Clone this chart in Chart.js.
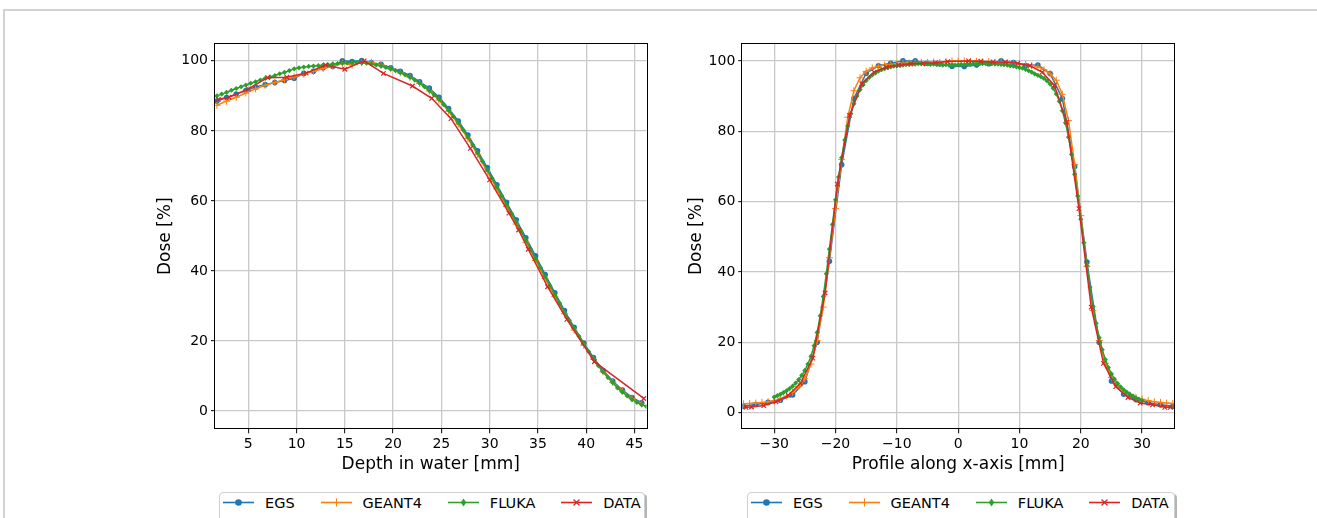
<!DOCTYPE html>
<html><head><meta charset="utf-8">
<script src="https://cdn.jsdelivr.net/npm/chart.js@4.4.0/dist/chart.umd.min.js"></script>
<style>
html,body{margin:0;padding:0;background:#fff;width:1317px;height:518px;overflow:hidden;font-family:"DejaVu Sans",sans-serif;position:relative;}
#ftop{position:absolute;left:3px;top:9px;width:1314px;height:2px;background:#d2d2d2;}
#fleft{position:absolute;left:3px;top:9px;width:2px;height:509px;background:#d2d2d2;}
.wrap{position:absolute;top:30px;width:530px;height:455px;}
.legend{position:absolute;top:492px;height:34px;box-sizing:border-box;border:1px solid #cfcfcf;border-radius:4px;box-shadow:2px 2px 0 #b5b5b5;background:#fff;display:flex;align-items:flex-start;padding-left:3px;font-size:14.5px;line-height:20px;color:#000;}
.item{display:flex;align-items:flex-start;margin-right:26px;}
.item:last-child{margin-right:0;}
.item svg{width:31px;height:20px;margin-right:11px;}
</style>
</head><body>
<div id="ftop"></div><div id="fleft"></div>
<div class="wrap" style="left:130px"><canvas id="c1" width="530" height="455"></canvas></div>
<div class="wrap" style="left:660px"><canvas id="c2" width="530" height="455"></canvas></div>
<div class="legend" id="lg1" style="left:219px;width:426px"></div>
<div class="legend" id="lg2" style="left:747px;width:428px"></div>
<script>
// ---------- data ----------
const seriesNames = ['EGS', 'GEANT4', 'FLUKA', 'DATA'];

const doseTicks = [0, 20, 40, 60, 80, 100];
const depthTicks = [5, 10, 15, 20, 25, 30, 35, 40, 45];
const profileTicks = [-30, -20, -10, 0, 10, 20, 30];

// Left panel: depth dose
const depthEGS = [1.75,2.75,3.75,4.75,5.75,6.75,7.75,8.75,9.75,10.75,11.75,12.75,13.75,14.75,15.75,16.75,17.75,18.75,19.75,20.75,21.75,22.75,23.75,24.75,25.75,26.75,27.75,28.75,29.75,30.75,31.75,32.75,33.75,34.75,35.75,36.75,37.75,38.75,39.75,40.75,41.75,42.75,43.75,44.75,45.75];
const doseEGS = [88.5,89.5,90.5,91.5,92.5,93.2,93.8,94.4,95.0,96.4,97.0,98.0,98.4,100.0,99.8,100.1,99.4,99.0,98.0,97.0,95.8,94.0,92.2,89.6,86.4,82.8,78.8,74.3,69.5,64.6,59.6,54.6,49.5,44.3,39.0,33.8,28.7,23.9,19.4,15.3,11.6,8.6,6.0,3.9,2.4];

const depthGEANT4 = [1.75,2.75,3.75,4.75,5.75,6.75,7.75,8.75,9.75,10.75,11.75,12.75,13.75,14.75,15.75,16.75,17.75,18.75,19.75,20.75,21.75,22.75,23.75,24.75,25.75,26.75,27.75,28.75,29.75,30.75,31.75,32.75,33.75,34.75,35.75,36.75,37.75,38.75,39.75,40.75,41.75,42.75,43.75,44.75,45.75];
const doseGEANT4 = [87.3,88.5,89.6,90.8,92.0,93.0,93.8,94.6,95.4,96.2,97.0,97.8,98.5,99.3,98.8,99.5,99.6,98.8,97.7,96.6,95.3,93.5,91.4,88.8,85.6,81.9,77.8,73.3,68.4,63.4,58.4,53.4,48.2,43.0,37.8,32.7,27.8,23.1,18.8,14.8,11.2,8.2,5.7,3.6,2.1];

const depthFLUKA = [1.75,2.25,2.75,3.25,3.75,4.25,4.75,5.25,5.75,6.25,6.75,7.25,7.75,8.25,8.75,9.25,9.75,10.25,10.75,11.25,11.75,12.25,12.75,13.25,13.75,14.25,14.75,15.25,15.75,16.25,16.75,17.25,17.75,18.25,18.75,19.25,19.75,20.25,20.75,21.25,21.75,22.25,22.75,23.25,23.75,24.25,24.75,25.25,25.75,26.25,26.75,27.25,27.75,28.25,28.75,29.25,29.75,30.25,30.75,31.25,31.75,32.25,32.75,33.25,33.75,34.25,34.75,35.25,35.75,36.25,36.75,37.25,37.75,38.25,38.75,39.25,39.75,40.25,40.75,41.25,41.75,42.25,42.75,43.25,43.75,44.25,44.75,45.25,45.75,46.25];
const doseFLUKA = [90.0,90.5,91.0,91.6,92.1,92.6,93.1,93.6,94.0,94.5,95.0,95.4,95.8,96.3,96.7,97.2,97.7,98.0,98.2,98.4,98.5,98.6,98.8,98.9,99.1,99.2,99.3,99.4,99.5,99.5,99.4,99.3,99.1,98.8,98.5,98.1,97.7,97.2,96.6,96.0,95.3,94.5,93.6,92.6,91.5,90.3,89.0,87.5,85.9,84.1,82.3,80.3,78.2,76.0,73.7,71.3,68.9,66.5,64.0,61.5,59.0,56.5,54.0,51.4,48.8,46.2,43.6,41.0,38.4,35.8,33.3,30.8,28.3,25.9,23.6,21.4,19.3,17.0,14.9,13.0,11.2,9.6,8.1,6.6,5.4,4.3,3.3,2.5,1.8,1.3];

const depthDATA = [1.9,3.0,5.0,7.0,9.0,11.0,13.0,15.0,17.0,19.0,22.0,24.0,26.0,28.0,30.0,32.0,33.0,34.0,36.0,38.0,40.85,45.97];
const doseDATA = [89.0,89.6,92.0,95.2,95.3,96.5,98.8,97.6,100.0,96.4,92.8,89.3,83.5,75.0,66.0,56.5,51.7,46.2,35.5,26.2,14.1,3.6];

// Right panel: lateral profile
const profEGSx = [-35,-33,-31,-29,-27,-25,-23,-21,-19,-17,-15,-13,-11,-9,-7,-5,-3,-1,1,3,5,7,9,11,13,15,17,19,21,23,25,27,29,31,33,35];
const profEGSy = [1.8,2.3,2.9,3.5,5.0,8.8,20.0,43.0,70.5,89.3,96.5,98.6,99.3,100.0,100.0,99.3,99.2,98.5,98.4,98.8,99.2,100.0,99.5,98.7,98.8,96.4,89.3,70.0,42.8,20.0,9.0,5.2,3.7,2.8,2.2,1.8];

const profGEANT4x = [-35,-34,-33,-32,-31,-30,-29,-28,-27,-26,-25,-24,-23,-22,-21,-20,-19,-18,-17,-16,-15,-14,-13,-12,-11,-10,-9,-8,-7,-6,-5,-4,-3,-2,-1,0,1,2,3,4,5,6,7,8,9,10,11,12,13,14,15,16,17,18,19,20,21,22,23,24,25,26,27,28,29,30,31,32,33,34,35];
const profGEANT4y = [2.5,2.6,2.7,2.9,3.1,3.4,3.9,4.7,5.8,7.4,9.6,13.8,20.5,30.0,44.0,58.0,72.0,84.0,91.5,95.2,97.0,98.0,98.5,98.8,99.0,99.2,99.3,99.4,99.5,99.6,99.6,99.7,99.6,99.8,100.0,99.9,100.0,99.8,99.9,99.7,99.8,99.6,99.7,99.5,99.4,99.2,99.0,98.7,98.3,97.5,96.3,94.5,90.5,83.0,70.5,56.0,41.5,29.0,20.5,14.0,10.0,7.6,6.0,5.0,4.3,3.8,3.4,3.1,2.9,2.7,2.6];

const profFLUKAx = [-30,-29.5,-29,-28.5,-28,-27.5,-27,-26.5,-26,-25.5,-25,-24.5,-24,-23.5,-23,-22.5,-22,-21.5,-21,-20.5,-20,-19.5,-19,-18.5,-18,-17.5,-17,-16.5,-16,-15.5,-15,-14.5,-14,-13.5,-13,-12.5,-12,-11.5,-11,-10.5,-10,-9.5,-9,-8.5,-8,-7.5,-7,-6.5,-6,-5.5,-5,-4.5,-4,-3.5,-3,-2.5,-2,-1.5,-1,-0.5,0,0.5,1,1.5,2,2.5,3,3.5,4,4.5,5,5.5,6,6.5,7,7.5,8,8.5,9,9.5,10,10.5,11,11.5,12,12.5,13,13.5,14,14.5,15,15.5,16,16.5,17,17.5,18,18.5,19,19.5,20,20.5,21,21.5,22,22.5,23,23.5,24,24.5,25,25.5,26,26.5,27,27.5,28,28.5,29,29.5,30];
const profFLUKAy = [4.4,4.8,5.2,5.7,6.2,6.8,7.5,8.4,9.4,10.6,12.0,13.8,16.0,19.0,22.8,27.5,33.0,39.5,46.5,53.5,60.5,67.0,72.5,77.5,81.5,85.0,87.8,90.0,91.8,93.2,94.4,95.3,96.0,96.6,97.1,97.5,97.8,98.1,98.3,98.5,98.6,98.7,98.8,98.9,99.0,99.1,99.1,99.2,99.2,99.1,99.2,99.0,99.1,98.9,99.0,98.8,98.9,98.8,98.9,98.8,98.9,99.0,98.9,99.1,99.0,99.2,99.1,99.2,99.3,99.2,99.3,99.2,99.1,99.1,99.0,98.9,98.8,98.6,98.5,98.3,98.1,97.9,97.6,97.2,96.8,96.3,95.9,95.5,95.0,94.3,93.4,92.2,90.6,88.5,85.8,82.4,78.3,73.4,67.8,61.6,55.0,48.3,41.8,35.7,30.2,25.4,21.3,17.9,15.1,12.8,11.0,9.5,8.3,7.3,6.5,5.8,5.2,4.7,4.2,3.8,3.4];

const profDATAx = [-34.6,-33.7,-31.7,-29.7,-27.7,-25.7,-23.7,-21.7,-19.7,-17.7,-15.7,-13.7,-11.7,-9.7,-7.7,-5.7,-3.7,-1.7,1.7,3.7,5.7,7.7,9.7,11.7,13.7,15.7,17.7,19.7,21.7,23.7,25.7,27.7,29.7,31.7,33.7,34.6];
const profDATAy = [1.5,1.6,2.0,3.1,4.9,8.4,15.5,34.0,65.0,84.5,93.5,96.8,98.2,98.8,99.2,99.3,99.5,99.8,100.0,99.9,99.7,99.6,99.3,98.6,96.8,93.0,82.6,58.0,30.0,14.0,7.4,4.3,2.7,2.2,1.5,1.5];

// ---------- styling ----------
const COLORS = ['#1f77b4', '#ff7f0e', '#2ca02c', '#d62728'];
const FONT = '"DejaVu Sans", sans-serif';
Chart.defaults.font.family = FONT;
Chart.defaults.color = '#000';

function pts(xs, ys) { return xs.map((x, i) => ({x: x, y: ys[i]})); }

function makeDatasets(sets) {
  const styles = [
    {pointStyle: 'circle', pointRadius: 2.8, pointBorderWidth: 0, order: 3},
    {pointStyle: 'cross', pointRadius: 3.5, pointBorderWidth: 1, order: 2},
    {pointStyle: 'rectRot', pointRadius: 2.6, pointBorderWidth: 0, order: 1},
    {pointStyle: 'crossRot', pointRadius: 3.2, pointBorderWidth: 1.2, order: 0}
  ];
  return sets.map((s, i) => Object.assign({
    label: seriesNames[i],
    data: pts(s[0], s[1]),
    borderColor: COLORS[i],
    backgroundColor: COLORS[i],
    pointBackgroundColor: COLORS[i],
    pointBorderColor: COLORS[i],
    borderWidth: 1.5,
    tension: 0,
    fill: false
  }, styles[i]));
}

const spines = {
  id: 'spines',
  afterDatasetsDraw(chart) {
    const {ctx, chartArea: a} = chart;
    ctx.save();
    ctx.strokeStyle = '#000';
    ctx.lineWidth = 1;
    ctx.strokeRect(Math.round(a.left) - 0.5, Math.round(a.top) + 0.5, Math.round(a.right - a.left) + 1, Math.round(a.bottom - a.top) - 1);
    ctx.restore();
  }
};

function fmt(v) { return String(v).replace('-', '\u2212'); }

function makeChart(id, sets, xr, yr, xTicks, xTitle, yAxisW, yTitlePad, padRight) {
  return new Chart(document.getElementById(id), {
    type: 'line',
    data: {datasets: makeDatasets(sets)},
    plugins: [spines],
    options: {
      responsive: false,
      animation: false,
      devicePixelRatio: 1,
      layout: {padding: {left: 0, top: 13.3, right: padRight, bottom: 0}},
      plugins: {legend: {display: false}, tooltip: {enabled: false}},
      scales: {
        x: {
          type: 'linear', min: xr[0], max: xr[1],
          afterBuildTicks: s => { s.ticks = xTicks.map(v => ({value: v})); },
          afterFit: s => { s.height = 455 - 399.3; },
          grid: {color: '#c9c9c9', lineWidth: 1.3, tickColor: '#000', tickLength: 4, tickWidth: 1},
          border: {display: false},
          ticks: {font: {size: 14, family: FONT}, color: '#000', padding: 3, maxRotation: 0, callback: v => fmt(v)},
          title: {display: true, text: xTitle, font: {size: 17, family: FONT}, color: '#000', padding: {top: 0, bottom: 10}}
        },
        y: {
          type: 'linear', min: yr[0], max: yr[1],
          afterBuildTicks: s => { s.ticks = doseTicks.map(v => ({value: v})); },
          afterFit: s => { s.width = yAxisW; },
          grid: {color: '#c9c9c9', lineWidth: 1.3, tickColor: '#000', tickLength: 4, tickWidth: 1},
          border: {display: false},
          ticks: {font: {size: 14, family: FONT}, color: '#000', padding: 3, callback: v => fmt(v)},
          title: {display: true, text: 'Dose [%]', font: {size: 17, family: FONT}, color: '#000', padding: {top: yTitlePad, bottom: 0}}
        }
      }
    }
  });
}

makeChart('c1',
  [[depthEGS, doseEGS], [depthGEANT4, doseGEANT4], [depthFLUKA, doseFLUKA], [depthDATA, doseDATA]],
  [1.55, 46.25], [-5.2, 105.0], depthTicks, 'Depth in water [mm]', 85, 25, 13.5);

makeChart('c2',
  [[profEGSx, profEGSy], [profGEANT4x, profGEANT4y], [profFLUKAx, profFLUKAy], [profDATAx, profDATAy]],
  [-35.2, 35.2], [-4.75, 105.0], profileTicks, 'Profile along x-axis [mm]', 82.3, 26, 16);

// ---------- legends (HTML, real text) ----------
function markerSVG(i) {
  const c = COLORS[i];
  let m = '';
  if (i === 0) m = `<circle cx="15.5" cy="9.5" r="3.3" fill="${c}"/>`;
  if (i === 1) m = `<path d="M15.5 5.5V13.5M11.5 9.5H19.5" stroke="${c}" stroke-width="1.1"/>`;
  if (i === 2) m = `<path d="M15.5 5.5L18.2 9.5L15.5 13.5L12.8 9.5Z" fill="${c}"/>`;
  if (i === 3) m = `<path d="M12.5 6.5L18.5 12.5M18.5 6.5L12.5 12.5" stroke="${c}" stroke-width="1.2"/>`;
  return `<svg viewBox="0 0 31 20"><line x1="0" y1="9.5" x2="31" y2="9.5" stroke="${c}" stroke-width="1.6"/>${m}</svg>`;
}
['lg1', 'lg2'].forEach(id => {
  const el = document.getElementById(id);
  el.innerHTML = seriesNames.map((n, i) => `<div class="item">${markerSVG(i)}<span>${n}</span></div>`).join('');
});
</script>
</body></html>
